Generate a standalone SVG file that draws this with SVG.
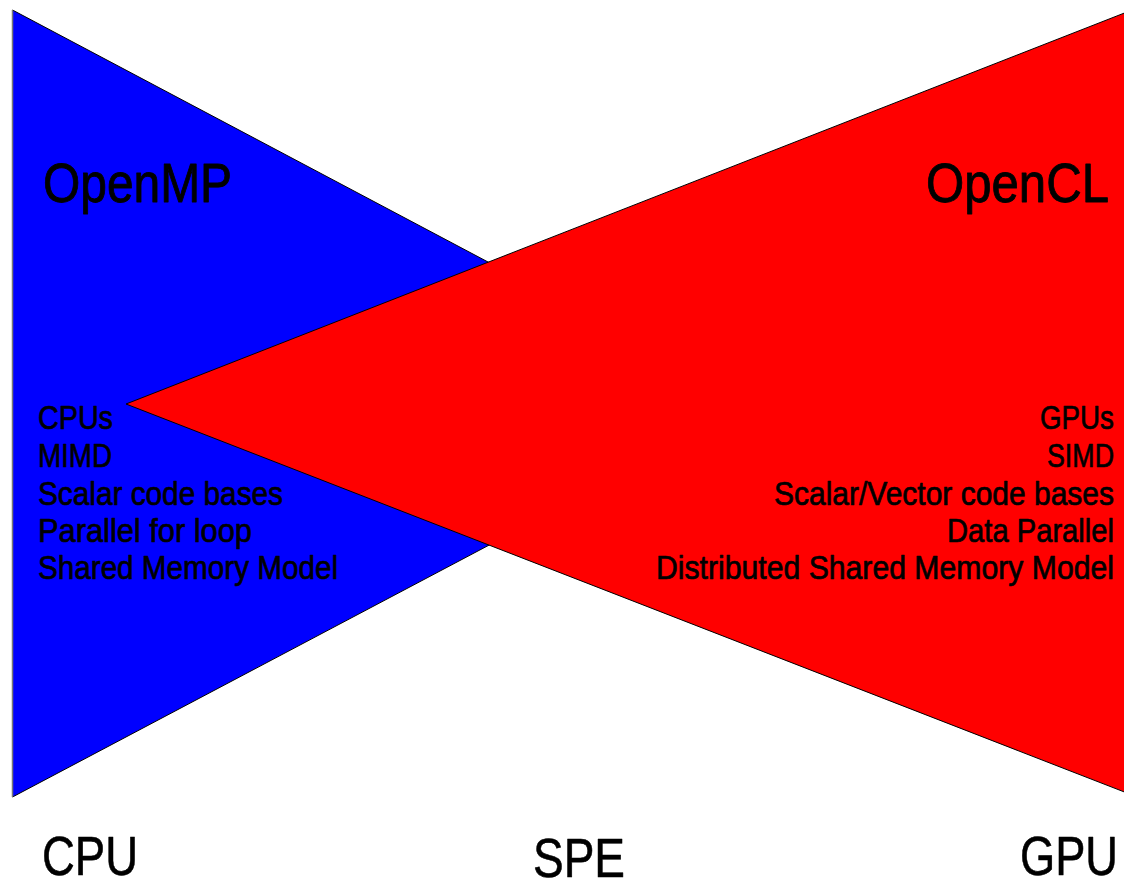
<svg xmlns="http://www.w3.org/2000/svg" width="1124" height="880" viewBox="0 0 1124 880">
  <style>
    text { font-family: "Liberation Sans Narrow", "Arial Narrow", "Liberation Sans", sans-serif; fill: #000; stroke: #000; stroke-linejoin: round; }
    .head { font-size: 56px; stroke-width: 0.9; }
    .item { font-size: 33px; stroke-width: 0.7; }
    .axis { font-size: 55px; stroke-width: 0.6; }
    .tri { stroke: #000; stroke-width: 1; }
  </style>
  <rect width="1124" height="880" fill="#fff"/>

  <!-- OpenMP wedge (CPU side) -->
  <g id="openmp">
    <polygon class="tri" points="12.5,10 12.5,797 756,404" fill="#0000ff"/>
    <line x1="12.5" y1="10" x2="12.5" y2="797" stroke="#777" stroke-width="1.5"/>
  </g>

  <!-- OpenCL wedge (GPU side) -->
  <g id="opencl">
    <polygon class="tri" points="126,404 1127,12 1127,793" fill="#ff0000"/>
  </g>

  <!-- condensed lettering: horizontal squeeze, widths fixed with textLength -->
  <g transform="scale(0.88 1)">
    <g id="openmp-text">
      <text class="head" x="48.86" y="202" textLength="214.77" lengthAdjust="spacingAndGlyphs">OpenMP</text>
      <text class="item" x="43.18" y="429" textLength="85.23" lengthAdjust="spacingAndGlyphs">CPUs</text>
      <text class="item" x="43.18" y="467" textLength="84.09" lengthAdjust="spacingAndGlyphs">MIMD</text>
      <text class="item" x="43.18" y="505" textLength="278.41" lengthAdjust="spacingAndGlyphs">Scalar code bases</text>
      <text class="item" x="43.18" y="542" textLength="243.18" lengthAdjust="spacingAndGlyphs">Parallel for loop</text>
      <text class="item" x="43.18" y="579" textLength="340.91" lengthAdjust="spacingAndGlyphs">Shared Memory Model</text>
    </g>

    <g id="opencl-text">
      <text class="head" x="1052.27" y="202" textLength="207.95" lengthAdjust="spacingAndGlyphs">OpenCL</text>
      <text class="item" x="1181.82" y="429" textLength="84.09" lengthAdjust="spacingAndGlyphs">GPUs</text>
      <text class="item" x="1189.77" y="467" textLength="76.14" lengthAdjust="spacingAndGlyphs">SIMD</text>
      <text class="item" x="879.55" y="505" textLength="386.36" lengthAdjust="spacingAndGlyphs">Scalar/Vector code bases</text>
      <text class="item" x="1076.14" y="542" textLength="189.77" lengthAdjust="spacingAndGlyphs">Data Parallel</text>
      <text class="item" x="745.45" y="579" textLength="520.45" lengthAdjust="spacingAndGlyphs">Distributed Shared Memory Model</text>
    </g>

    <g id="axis-labels">
      <text class="axis" x="47.73" y="875" textLength="109.09" lengthAdjust="spacingAndGlyphs">CPU</text>
      <text class="axis" x="605.68" y="877" textLength="104.55" lengthAdjust="spacingAndGlyphs">SPE</text>
      <text class="axis" x="1159.09" y="875" textLength="111.36" lengthAdjust="spacingAndGlyphs">GPU</text>
    </g>
  </g>
</svg>
